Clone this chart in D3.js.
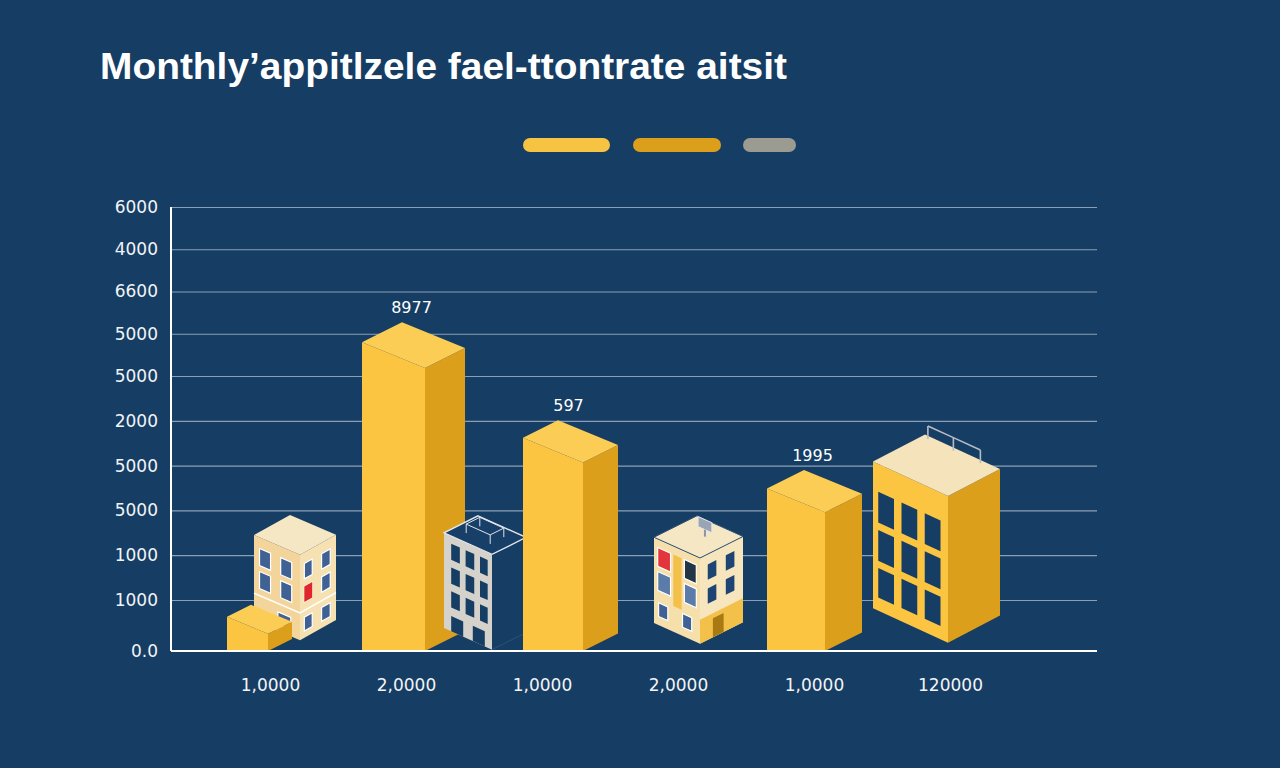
<!DOCTYPE html>
<html>
<head>
<meta charset="utf-8">
<script src="https://cdn.jsdelivr.net/npm/d3@7"></script>
<style>
	html, body { margin: 0; padding: 0; background: #163d63; }
	svg { display: block; }
</style>
</head>
<body>
<script>
// ---- data ----
const title = "Monthly’appitlzele fael-ttontrate aitsit";
const categories = ["1,0000", "2,0000", "1,0000", "2,0000", "1,0000", "120000"];
const yTickLabels = ["0.0", "1000", "1000", "5000", "5000", "2000", "5000", "5000", "6600", "4000", "6000"];

// yellow bars: category index, height (in grid steps), value label
const barCats = [0, 1, 2, 4];
const barLevels = [0.67, 6.8, 4.62, 3.49];
const barLabels = ["", "8977", "597", "1995"];

// buildings: category index, roof level, ground level (grid steps)
const buildingCats = [0, 1, 3, 5];
const buildingTops = [2.45, 2.5, 2.4, 4.09];
const buildingBases = [0.6, 0.45, 0.55, 0.84];

const legendColors = ["#f7c343", "#dc9f1c", "#9c9b92"];

// ---- styles ----
const W = 1280, H = 768;
const bg = "#163d63";
const plot = { left: 171, right: 1097, top: 207, bottom: 651 };
const yellow = "#fbc441", yellowDark = "#dc9f1c", cream = "#f6e7c4";

// per mark: offset from category centre, front width, side width, draw order
const barLook = [
	{ dx: -43, fw: 41, sw: 24, z: 1 },
	{ dx: -44, fw: 63, sw: 40, z: 2 },
	{ dx: -19, fw: 60, sw: 35, z: 4 },
	{ dx: -47, fw: 58, sw: 37, z: 6 }
];
const buildingLook = [
	{ dx: -16, fw: 46, sw: 36, z: 0, type: "beige" },
	{ dx: 38, fw: 48, sw: 34, z: 3, type: "gray" },
	{ dx: -24, fw: 46, sw: 43, z: 5, type: "beige2" },
	{ dx: -77, fw: 75, sw: 52, z: 7, type: "tower" }
];

const svg = d3.select("body").append("svg")
	.attr("width", W)
	.attr("height", H)
	.attr("font-family", "'Liberation Sans', Arial, sans-serif");

svg.append("rect").attr("width", W).attr("height", H).attr("fill", bg);

const x = d3.scalePoint()
	.domain(d3.range(categories.length))
	.range([270, 950]);

const y = d3.scaleLinear()
	.domain([0, 1, 6, 10])
	.range([plot.bottom, 600, 376, plot.top]);

// title
svg.append("text")
	.attr("x", 100)
	.attr("y", 79)
	.attr("font-size", 37)
	.attr("font-weight", "bold")
	.attr("fill", "#ffffff")
	.attr("textLength", 687)
	.attr("lengthAdjust", "spacingAndGlyphs")
	.text(title);

// legend pills
const pillX = [523, 633, 743], pillW = [87, 88, 53];
svg.append("g").selectAll("rect")
	.data(legendColors)
	.join("rect")
	.attr("x", (d, i) => pillX[i])
	.attr("y", 138)
	.attr("width", (d, i) => pillW[i])
	.attr("height", 14)
	.attr("rx", 7)
	.attr("fill", d => d);

// grid
const grid = svg.append("g")
	.attr("transform", `translate(${plot.left},0)`)
	.call(d3.axisLeft(y).tickValues(d3.range(1, 11)).tickSize(-(plot.right - plot.left)).tickFormat(""));
grid.select(".domain").remove();
grid.selectAll("line").attr("stroke", "#8ba0b6").attr("stroke-width", 1.2);

// y labels
const yAxis = svg.append("g")
	.attr("transform", `translate(${plot.left},0)`)
	.call(d3.axisLeft(y).tickValues(d3.range(11)).tickSize(0).tickPadding(13).tickFormat(i => yTickLabels[i]));
yAxis.select(".domain").remove();
yAxis.selectAll("text")
	.attr("font-size", 17)
	.attr("font-family", "'DejaVu Sans', sans-serif")
	.attr("fill", "#f2f4f7");

// x labels
const xAxis = svg.append("g")
	.attr("transform", `translate(0,${plot.bottom})`)
	.call(d3.axisBottom(x).tickSize(0).tickPadding(28).tickFormat(i => categories[i]));
xAxis.select(".domain").remove();
xAxis.selectAll("text")
	.attr("font-size", 17)
	.attr("font-family", "'DejaVu Sans', sans-serif")
	.attr("fill", "#f2f4f7");

// ---- iso helpers ----
const lerp = (a, b, t) => [a[0] + (b[0] - a[0]) * t, a[1] + (b[1] - a[1]) * t];
// face = [topLeft, topRight, bottomRight, bottomLeft]
const facePt = (f, u, v) => lerp(lerp(f[0], f[1], u), lerp(f[3], f[2], u), v);
const quad = (f, u0, u1, v0, v1) => [facePt(f, u0, v0), facePt(f, u1, v0), facePt(f, u1, v1), facePt(f, u0, v1)];
const pts = p => p.map(q => q.join(",")).join(" ");

function isoBox(x0, fw, sw, yTop, yBot, k1, k2, flatFront) {
	const xb = x0 + fw, xc = x0 + fw + sw;
	const tB = yTop + fw * k1, tC = tB - sw * k2, tD = yTop - sw * k2;
	const bB = flatFront ? yBot : yBot + fw * k1, bC = bB - sw * k2;
	return {
		front: [[x0, yTop], [xb, tB], [xb, bB], [x0, yBot]],
		side: [[xb, tB], [xc, tC], [xc, bC], [xb, bB]],
		top: [[x0 + sw, tD], [xc, tC], [xb, tB], [x0, yTop]],
		apex: [x0 + sw, tD]
	};
}

function drawFaces(g, box, colors) {
	g.append("polygon").attr("points", pts(box.front)).attr("fill", colors[0]);
	g.append("polygon").attr("points", pts(box.side)).attr("fill", colors[1]);
	g.append("polygon").attr("points", pts(box.top)).attr("fill", colors[2]);
}

function windows(g, face, cols, rows, fill, frame) {
	cols.forEach(([u0, u1]) => rows.forEach(([v0, v1]) => {
		g.append("polygon").attr("points", pts(quad(face, u0, u1, v0, v1)))
			.attr("fill", fill)
			.attr("stroke", frame || "none")
			.attr("stroke-width", frame ? 1.2 : 0);
	}));
}

// ---- items ----
const items = [];
barCats.forEach((c, i) => items.push({ kind: "bar", cat: c, top: barLevels[i], base: 0, label: barLabels[i], look: barLook[i] }));
buildingCats.forEach((c, i) => items.push({ kind: buildingLook[i].type, cat: c, top: buildingTops[i], base: buildingBases[i], look: buildingLook[i] }));
items.sort((a, b) => a.look.z - b.look.z);

const marks = svg.append("g");

items.forEach(d => {
	const g = marks.append("g");
	const L = d.look;
	const x0 = x(d.cat) + L.dx;

	if (d.kind === "bar") {
		const box = isoBox(x0, L.fw, L.sw, y(d.top), y(0), 0.41, 0.5, true);
		drawFaces(g, box, [yellow, yellowDark, "#fccd55"]);
		if (d.label) {
			g.append("text")
				.attr("x", x0 + (L.fw + L.sw) / 2 - 2)
				.attr("y", box.apex[1] - 9)
				.attr("text-anchor", "middle")
				.attr("font-size", 16)
				.attr("font-family", "'DejaVu Sans', sans-serif")
				.attr("fill", "#ffffff")
				.text(d.label);
		}
	} else if (d.kind === "tower") {
		const box = isoBox(x0, L.fw, L.sw, y(d.top), y(d.base), 0.46, 0.52, false);
		drawFaces(g, box, [yellow, yellowDark, "#f4e3bb"]);
		windows(g, box.front, [[0.07, 0.28], [0.38, 0.59], [0.69, 0.9]], [[0.19, 0.4], [0.45, 0.66], [0.71, 0.91]], bg);
		// roof railing
		const rail = [0.08, 0.42, 0.78].map(t => facePt(box.top, t, 0.06));
		rail.forEach(p => g.append("line")
			.attr("x1", p[0]).attr("y1", p[1])
			.attr("x2", p[0]).attr("y2", p[1] - 13)
			.attr("stroke", "#b7bcc4").attr("stroke-width", 1.6));
		g.append("polyline")
			.attr("points", pts(rail.map(p => [p[0], p[1] - 13])))
			.attr("fill", "none").attr("stroke", "#b7bcc4").attr("stroke-width", 1.6);
	} else if (d.kind === "gray") {
		const box = isoBox(x0, L.fw, L.sw, y(d.top), y(d.base), 0.45, 0.5, false);
		drawFaces(g, box, ["#d5d2cb", bg, bg]);
		g.append("polygon").attr("points", pts(box.top))
			.attr("fill", "#173f67").attr("stroke", "#e6e9ee").attr("stroke-width", 1.3);
		g.append("polyline").attr("points", pts([box.side[1], box.side[2], box.side[3]]))
			.attr("fill", "none").attr("stroke", "#2b5279").attr("stroke-width", 1);
		windows(g, box.front, [[0.15, 0.33], [0.45, 0.63], [0.75, 0.91]], [[0.08, 0.25], [0.33, 0.5], [0.58, 0.75]], bg);
		// door openings
		windows(g, box.front, [[0.15, 0.4], [0.6, 0.85]], [[0.84, 1.0]], bg);
		// roof sketch
		const r = [facePt(box.top, 0.25, 0.3), facePt(box.top, 0.75, 0.3), facePt(box.top, 0.75, 0.7), facePt(box.top, 0.25, 0.7)];
		g.append("polygon").attr("points", pts(r.map(p => [p[0], p[1] - 9])))
			.attr("fill", "none").attr("stroke", "#dfe4ea").attr("stroke-width", 1);
		r.forEach(p => g.append("line")
			.attr("x1", p[0]).attr("y1", p[1]).attr("x2", p[0]).attr("y2", p[1] - 9)
			.attr("stroke", "#dfe4ea").attr("stroke-width", 1));
	} else if (d.kind === "beige") {
		const box = isoBox(x0, L.fw, L.sw, y(d.top), y(d.base), 0.43, 0.56, false);
		drawFaces(g, box, ["#f3d59c", "#f6e1b2", cream]);
		const winBlue = "#3f6193";
		windows(g, box.front, [[0.12, 0.36], [0.58, 0.82]], [[0.13, 0.33], [0.4, 0.6]], winBlue, "#ffffff");
		windows(g, box.front, [[0.52, 0.8]], [[0.78, 0.92]], winBlue, "#ffffff");
		windows(g, box.side, [[0.12, 0.34], [0.6, 0.84]], [[0.13, 0.31], [0.4, 0.58], [0.76, 0.92]], winBlue, "#ffffff");
		g.append("polygon").attr("points", pts(quad(box.side, 0.12, 0.34, 0.4, 0.58))).attr("fill", "#e0262b");
		g.append("polyline").attr("points", pts([facePt(box.front, 0, 0.68), facePt(box.front, 1, 0.68), facePt(box.side, 1, 0.68)]))
			.attr("fill", "none").attr("stroke", "#ffffff").attr("stroke-width", 1.5);
	} else if (d.kind === "beige2") {
		const box = isoBox(x0, L.fw, L.sw, y(d.top), y(d.base), 0.45, 0.5, false);
		drawFaces(g, box, ["#f5dfab", "#f6e5bd", cream]);
		g.append("polygon").attr("points", pts(box.top)).attr("fill", cream).attr("stroke", "#2a4f78").attr("stroke-width", 1);
		// yellow strip and lower band
		g.append("polygon").attr("points", pts(quad(box.front, 0.42, 0.6, 0.1, 0.7))).attr("fill", "#f3c04a");
		g.append("polygon").attr("points", pts(quad(box.side, 0, 1, 0.72, 1))).attr("fill", "#f3c04a");
		g.append("polygon").attr("points", pts(quad(box.side, 0.3, 0.55, 0.78, 1))).attr("fill", "#a97a12");
		windows(g, box.front, [[0.08, 0.36]], [[0.1, 0.32]], "#e2353c", "#ffffff");
		windows(g, box.front, [[0.66, 0.92]], [[0.1, 0.32]], "#233447", "#ffffff");
		windows(g, box.front, [[0.08, 0.36], [0.66, 0.92]], [[0.38, 0.6]], "#5b7ba8", "#ffffff");
		windows(g, box.front, [[0.1, 0.3], [0.62, 0.82]], [[0.74, 0.9]], "#3f6193", "#ffffff");
		windows(g, box.side, [[0.18, 0.38], [0.6, 0.8]], [[0.12, 0.3], [0.4, 0.58]], "#1e4474");
		// rooftop sign
		const s0 = facePt(box.top, 0.35, 0.35), s1 = facePt(box.top, 0.65, 0.35);
		g.append("polygon").attr("points", pts([[s0[0], s0[1] - 14], [s1[0], s1[1] - 14], [s1[0], s1[1] - 4], [s0[0], s0[1] - 4]]))
			.attr("fill", "#9aa4b2").attr("stroke", "#e4e8ed").attr("stroke-width", 1);
		g.append("line").attr("x1", (s0[0] + s1[0]) / 2).attr("y1", (s0[1] + s1[1]) / 2 - 4)
			.attr("x2", (s0[0] + s1[0]) / 2).attr("y2", (s0[1] + s1[1]) / 2 + 3)
			.attr("stroke", "#8b95a3").attr("stroke-width", 2);
	}
});

// axis lines
svg.append("line")
	.attr("x1", plot.left).attr("x2", plot.left)
	.attr("y1", plot.top).attr("y2", plot.bottom)
	.attr("stroke", "#ffffff").attr("stroke-width", 2);
svg.append("line")
	.attr("x1", plot.left).attr("x2", plot.right)
	.attr("y1", plot.bottom).attr("y2", plot.bottom)
	.attr("stroke", "#ffffff").attr("stroke-width", 2);
</script>
</body>
</html>
